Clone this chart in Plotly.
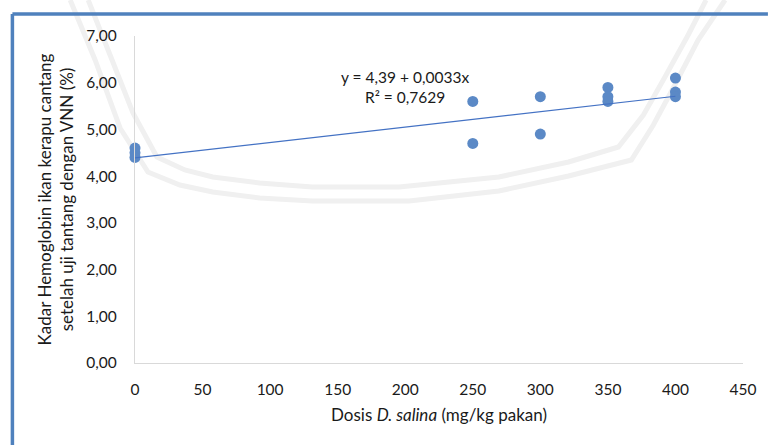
import plotly.graph_objects as go

# Dose of D. salina (mg/kg feed) and haemoglobin level (%) after the VNN challenge
dose = [0, 0, 0, 250, 250, 300, 300, 350, 350, 350, 400, 400, 400]
hb = [4.6, 4.5, 4.4, 5.6, 4.7, 5.7, 4.9, 5.9, 5.7, 5.6, 6.1, 5.8, 5.7]

# Linear trendline coefficients and fit quality
intercept = 4.39
slope = 0.0033
r2 = 0.7629
trend_x = [0, 400]

x_ticks = list(range(0, 451, 50))
y_ticks = list(range(0, 8))

FONT = "Lato, 'Liberation Sans', sans-serif"
TEXT = "#1a1a1a"
BLUE = "#5B89C6"

# pixel -> paper conversion for decorations (plot area 135..745 x 36..363)
L, R, T, B = 135, 745, 36, 363


def px(x, y):
    return (x - L) / (R - L), (B - y) / (B - T)


def path(points):
    pts = [px(x, y) for x, y in points]
    return "M " + " L ".join(f"{a:.4f},{b:.4f}" for a, b in pts)


band_inner = [(88, 0), (110, 55), (133, 113), (157, 157), (185, 170), (213, 177),
              (260, 183), (313, 187), (400, 187), (500, 177), (570, 162),
              (620, 147), (645, 115), (665, 80), (690, 35), (708, 0)]
band_outer = [(70, 0), (95, 60), (120, 128), (148, 172), (180, 185), (213, 192),
              (260, 198), (313, 201), (410, 201), (500, 191), (570, 176),
              (633, 160), (655, 125), (675, 88), (700, 40), (727, 0)]

fig = go.Figure()

fig.add_trace(go.Scatter(
    x=dose, y=hb, mode="markers", cliponaxis=False,
    marker=dict(size=11, color=BLUE),
    showlegend=False,
))

fig.add_trace(go.Scatter(
    x=trend_x, y=[intercept + slope * v for v in trend_x], mode="lines",
    line=dict(color="#4472C4", width=1.2), cliponaxis=False,
    showlegend=False,
))

shapes = []
for band in (band_inner, band_outer):
    shapes.append(dict(type="path", xref="paper", yref="paper", path=path(band),
                       line=dict(color="#f0f0f0", width=5), layer="below"))

# blue frame around the figure
x0, y0 = px(12, 14)
x1, _ = px(770, 14)
_, y1 = px(12, 450)
shapes.append(dict(type="line", xref="paper", yref="paper", x0=x0, y0=y0, x1=x1, y1=y0,
                   line=dict(color="#4F81BD", width=3.5)))
shapes.append(dict(type="line", xref="paper", yref="paper", x0=x0, y0=y0, x1=x0, y1=y1,
                   line=dict(color="#4F81BD", width=3.5)))

eq_text = (f"y = {intercept:.2f} + {slope:.4f}x".replace(".", ",")
           + "<br>" + f"R² = {r2:.4f}".replace(".", ","))

fig.update_layout(
    width=768, height=445,
    margin=dict(l=L, r=768 - R, t=T, b=445 - B),
    paper_bgcolor="white", plot_bgcolor="rgba(0,0,0,0)",
    separators=", ",
    font=dict(family=FONT, color=TEXT, size=15),
    shapes=shapes,
    annotations=[dict(
        x=200, y=5.9, xref="x", yref="y", text=eq_text, showarrow=False,
        font=dict(family=FONT, size=15.5, color=TEXT), align="center",
    )],
    xaxis=dict(
        range=[0, 450], tickvals=x_ticks, showgrid=False, zeroline=False,
        showline=True, linecolor="#d9d9d9", linewidth=1.3,
        ticks="", ticklabelstandoff=12,
        tickfont=dict(size=15.5, family=FONT, color=TEXT),
        title=dict(text="Dosis <i>D. salina</i> (mg/kg pakan)", standoff=12,
                   font=dict(size=17, family=FONT, color=TEXT)),
    ),
    yaxis=dict(
        range=[0, 7], tickvals=y_ticks, tickformat=".2f", showgrid=False,
        zeroline=False, showline=True, linecolor="#d9d9d9", linewidth=1.3,
        ticks="", ticklabelstandoff=14,
        tickfont=dict(size=15.5, family=FONT, color=TEXT),
        title=dict(text="Kadar Hemoglobin ikan kerapu cantang<br>setelah uji tantang dengan VNN (%)",
                   standoff=8, font=dict(size=17, family=FONT, color=TEXT)),
    ),
)

fig.write_html("out.html")
